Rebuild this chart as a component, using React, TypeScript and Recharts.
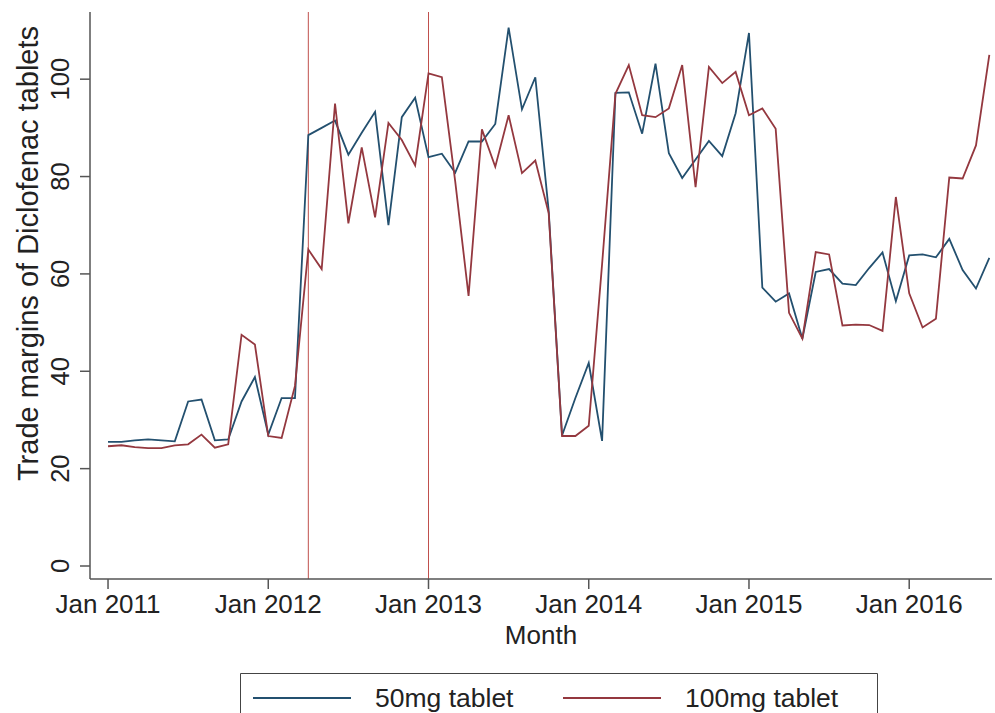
import React from 'react';
import {
    LineChart,
    Line,
    XAxis,
    YAxis,
    ReferenceLine,
    Legend,
} from 'recharts';

// monthly values, Jan 2011 .. Jul 2016 (index 0 = Jan 2011)
const tablet50 = [
    25.5, 25.5, 25.8, 26, 25.8, 25.6, 33.8, 34.2, 25.8, 26, 33.8, 38.8,
    27, 34.5, 34.5, 88.5, 90, 91.5, 84.5, 89, 93.3, 70, 92.2, 96.2,
    84, 84.7, 80.8, 87.2, 87.2, 90.8, 110.6, 93.8, 100.4, 73, 26.8, 34.5,
    41.7, 25.7, 97.2, 97.3, 88.8, 103.2, 84.8, 79.7, 83.5, 87.3, 84.2, 93,
    109.5, 57.2, 54.3, 56, 46.7, 60.4, 61, 58, 57.7, 61.2, 64.4, 54.4,
    63.8, 64, 63.4, 67.2, 60.8, 57, 63.3,
];

const tablet100 = [
    24.6, 24.8, 24.4, 24.2, 24.2, 24.8, 25, 27, 24.3, 25, 47.5, 45.5,
    26.7, 26.3, 37, 65, 61, 95, 70.4, 86, 71.6, 91, 87.5, 82.3,
    101.2, 100.4, 79, 55.5, 89.7, 82, 92.6, 80.7, 83.3, 72.5, 26.7, 26.7,
    28.8, 62, 97, 102.9, 92.6, 92.2, 94, 102.9, 77.8, 102.5, 99.2, 101.5,
    92.6, 94, 89.8, 52, 46.7, 64.5, 64, 49.4, 49.6, 49.5, 48.3, 75.8,
    56, 49, 50.8, 79.8, 79.6, 86.4, 105,
];

const xTickMonths = [0, 12, 24, 36, 48, 60];
const xTickLabels = ['Jan 2011', 'Jan 2012', 'Jan 2013', 'Jan 2014', 'Jan 2015', 'Jan 2016'];
const yTicks = [0, 20, 40, 60, 80, 100];
const policyMonths = [15, 24]; // Apr 2012, Jan 2013

const series = [
    { key: 'mg50', name: '50mg tablet', color: '#23506f' },
    { key: 'mg100', name: '100mg tablet', color: '#94383f' },
];

const FONT = '"Liberation Sans", Arial, sans-serif';
const TEXT = '#222';
const AXIS = '#555';

const data = tablet50.map((v, i) => ({ m: i, mg50: v, mg100: tablet100[i] }));

function YTick({ x, y, payload }: any) {
    return (
        <text
            transform={`translate(${x},${y}) rotate(-90)`}
            textAnchor="middle"
            dy="0.36em"
            fontSize={25.5}
            fontFamily={FONT}
            fill={TEXT}
        >
            {payload.value}
        </text>
    );
}

function YTitle({ viewBox }: any) {
    const cy = viewBox.y + viewBox.height / 2 - 42;
    return (
        <text
            transform={`translate(28,${cy}) rotate(-90)`}
            textAnchor="middle"
            dy="0.36em"
            fontSize={29}
            fontFamily={FONT}
            fill={TEXT}
        >
            Trade margins of Diclofenac tablets
        </text>
    );
}

function LegendBox() {
    return (
        <svg width={638} height={40} style={{ display: 'block' }}>
            <path d="M0.5,40 V0.5 H637.5 V40" fill="none" stroke="#444" strokeWidth={1} />
            {series.map((s, i) => {
                const x0 = 13 + i * 310;
                return (
                    <g key={s.key}>
                        <line x1={x0} x2={x0 + 98} y1={25} y2={25} stroke={s.color} strokeWidth={2} />
                        <text x={x0 + 122} y={34} fontSize={26.5} fontFamily={FONT} fill={TEXT}>
                            {s.name}
                        </text>
                    </g>
                );
            })}
        </svg>
    );
}

export default function App() {
    return (
        <div style={{ position: 'absolute', left: 0, top: 0, background: '#fff' }}>
            <LineChart width={995} height={713} data={data} margin={{ top: 12, right: 3, bottom: 64, left: 0 }}>
                <XAxis
                    dataKey="m"
                    type="number"
                    domain={[-1.35, 66.2]}
                    allowDataOverflow
                    ticks={xTickMonths}
                    tickFormatter={(v: number) => xTickLabels[xTickMonths.indexOf(v)]}
                    height={70}
                    tickSize={10}
                    tickMargin={6}
                    stroke={AXIS}
                    strokeWidth={1.5}
                    tick={{ fontSize: 26, fontFamily: FONT, fill: TEXT }}
                    label={{
                        value: 'Month',
                        position: 'insideBottom',
                        offset: 5,
                        fontSize: 26,
                        fontFamily: FONT,
                        fill: TEXT,
                    }}
                />
                <YAxis
                    type="number"
                    domain={[-2.67, 113.8]}
                    allowDataOverflow
                    ticks={yTicks}
                    width={90}
                    tickSize={10}
                    tickMargin={20}
                    stroke={AXIS}
                    strokeWidth={1.5}
                    tick={<YTick />}
                    label={<YTitle />}
                />
                {policyMonths.map((m) => (
                    <ReferenceLine key={m} x={m} stroke="#c0504d" strokeWidth={1} />
                ))}
                {series.map((s) => (
                    <Line
                        key={s.key}
                        type="linear"
                        dataKey={s.key}
                        name={s.name}
                        stroke={s.color}
                        strokeWidth={1.8}
                        dot={false}
                        isAnimationActive={false}
                    />
                ))}
                <Legend
                    layout="horizontal"
                    verticalAlign="middle"
                    align="center"
                    wrapperStyle={{ left: 240, top: 673, width: 638, height: 40 }}
                    content={() => <LegendBox />}
                />
            </LineChart>
        </div>
    );
}
